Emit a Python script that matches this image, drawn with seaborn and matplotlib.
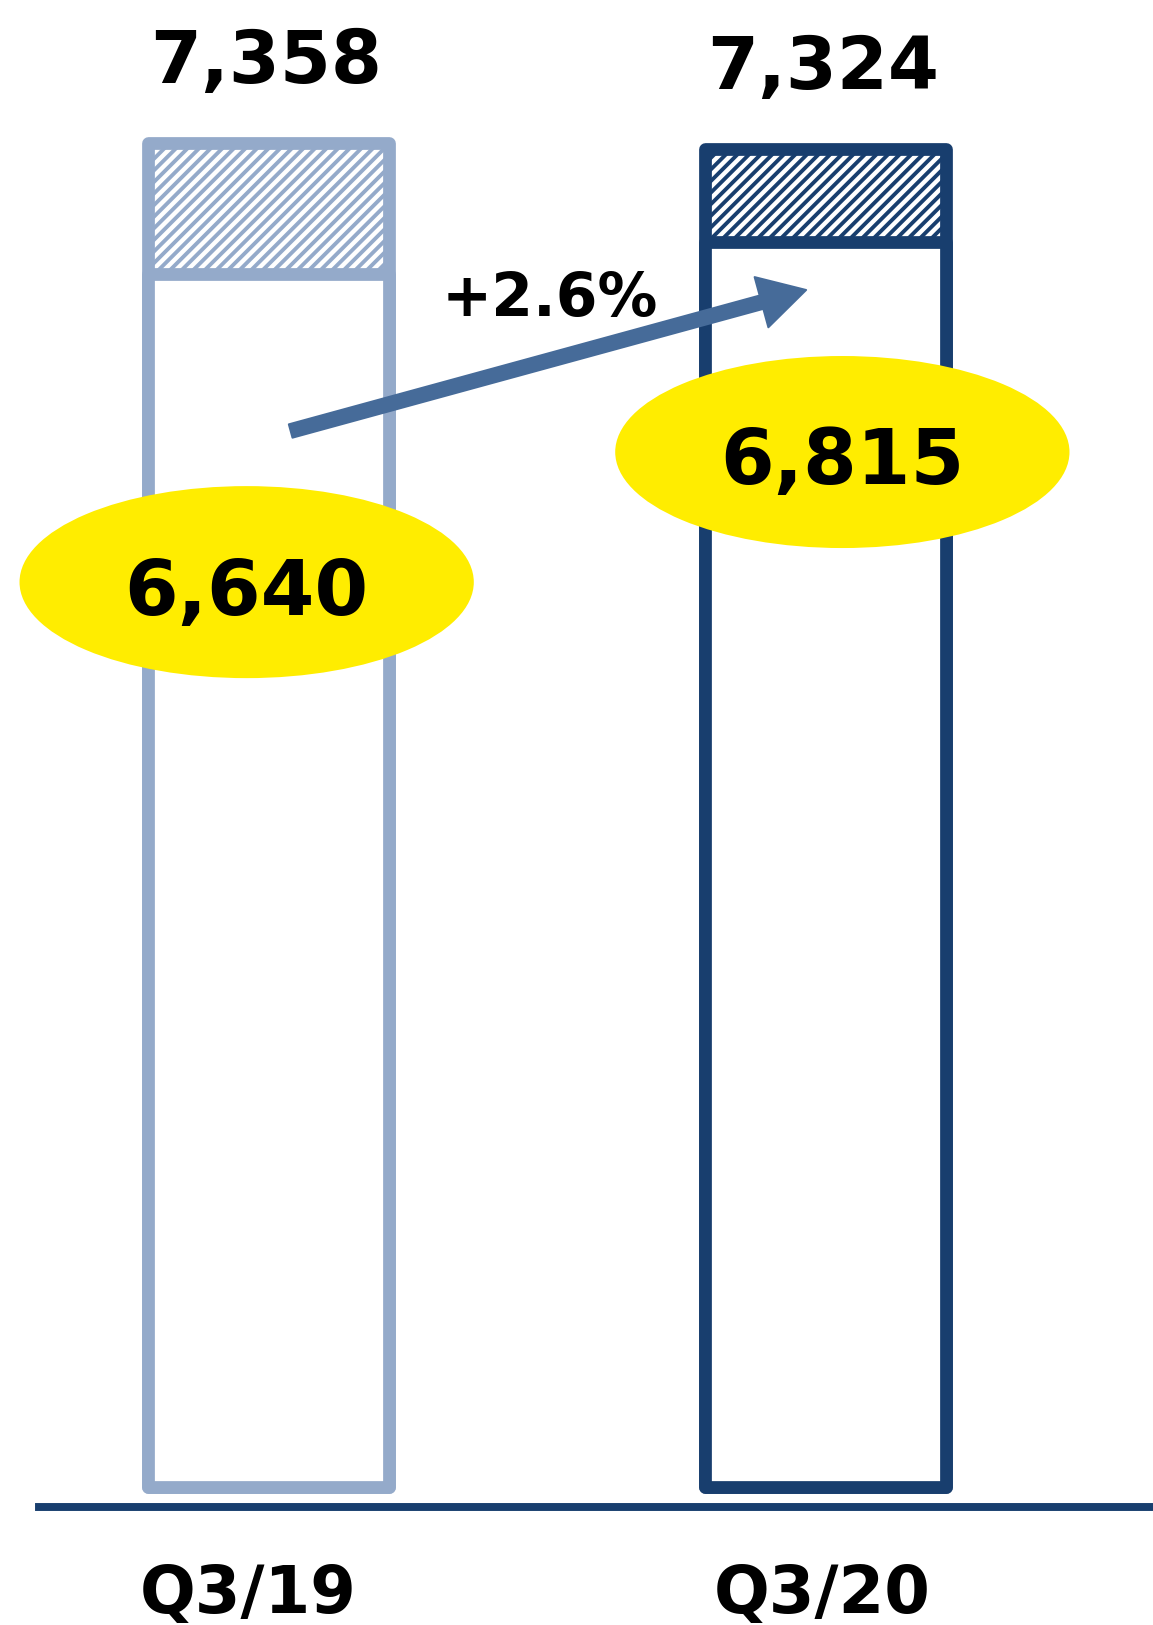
import matplotlib
matplotlib.use("Agg")
import matplotlib.pyplot as plt
from matplotlib.patches import Ellipse
from matplotlib.transforms import ScaledTranslation
import seaborn as sns
import pandas as pd

# ---- data ----
quarters = ["Q3/19", "Q3/20"]
totals = [7358, 7324]
bases = [6640, 6815]
growth_label = "+2.6%"

light = "#94AACA"
navy = "#183E6E"
arrow_col = "#466B99"
yellow = "#FFED00"

sns.set_theme(style="white")
plt.rcParams["font.family"] = ["DejaVu Sans"]
plt.rcParams["hatch.linewidth"] = 2.0

DPI = 139
fig = plt.figure(figsize=(1153 / DPI, 1625 / DPI), dpi=DPI)
ax = fig.add_axes([39 / 1153, 118 / 1625, 1114 / 1153, 1507 / 1625])

df = pd.DataFrame({"quarter": quarters, "total": totals, "base": bases})
bar_colors = [light, navy]

sns.barplot(data=df, x="quarter", y="total", ax=ax, width=0.433,
            errorbar=None, color="white", zorder=2)
n = len(quarters)
for p, c in zip(ax.patches[:n], bar_colors):
    p.set_facecolor("white")
    p.set_edgecolor(c)
    p.set_hatch("////")
    p.set_linewidth(6.6)
    p.set_joinstyle("round")

sns.barplot(data=df, x="quarter", y="base", ax=ax, width=0.433,
            errorbar=None, color="white", zorder=2.1)
for p, c in zip(ax.patches[n:2 * n], bar_colors):
    p.set_facecolor("white")
    p.set_edgecolor(c)
    p.set_linewidth(6.6)
    p.set_joinstyle("round")
    p.set_zorder(2.1)

ax.set_xlim(-0.412, 1.589)
ax.set_ylim(-109, 8139)

# totals above bars
for i, t in enumerate(totals):
    ax.annotate(f"{t:,}", xy=(i, t), xytext=(-1, 31), textcoords="offset points",
                ha="center", va="baseline", fontsize=38, fontweight="bold",
                color="black", zorder=5)

# growth arrow
ax.annotate("", xy=(0.966, 6552), xytext=(0.040, 5780),
            arrowprops=dict(arrowstyle="simple,head_length=24,head_width=27,tail_width=7.2",
                            mutation_scale=1, color=arrow_col, shrinkA=0, shrinkB=0),
            zorder=3)
ax.text(0.506, 6409, growth_label, ha="center", va="baseline", fontsize=31,
        fontweight="bold", color="black", zorder=5)

# ellipses with base values
ell_pos = [(-0.039, 4953, 4773), (1.031, 5665, 5490)]
for (ex, ey, ty), b in zip(ell_pos, bases):
    ax.add_patch(Ellipse((ex, ey), 0.816, 1051, facecolor=yellow, edgecolor="none",
                         zorder=4, clip_on=False))
    ax.text(ex, ty, f"{b:,}", ha="center", va="baseline", fontsize=40,
            fontweight="bold", color="black", zorder=5)

# axes styling
for s in ["top", "left", "right"]:
    ax.spines[s].set_visible(False)
ax.spines["bottom"].set_color(navy)
ax.spines["bottom"].set_linewidth(4.1)
ax.set_yticks([])
ax.set_xlabel("")
ax.set_ylabel("")
ax.tick_params(axis="x", length=0, pad=55, labelsize=34)
shifts = [-20, -3]
for lbl, sh in zip(ax.get_xticklabels(), shifts):
    lbl.set_fontweight("bold")
    lbl.set_va("baseline")
    lbl.set_color("black")
    lbl.set_transform(lbl.get_transform() + ScaledTranslation(sh / DPI, 0, fig.dpi_scale_trans))

fig.savefig("out.png", dpi=DPI)
